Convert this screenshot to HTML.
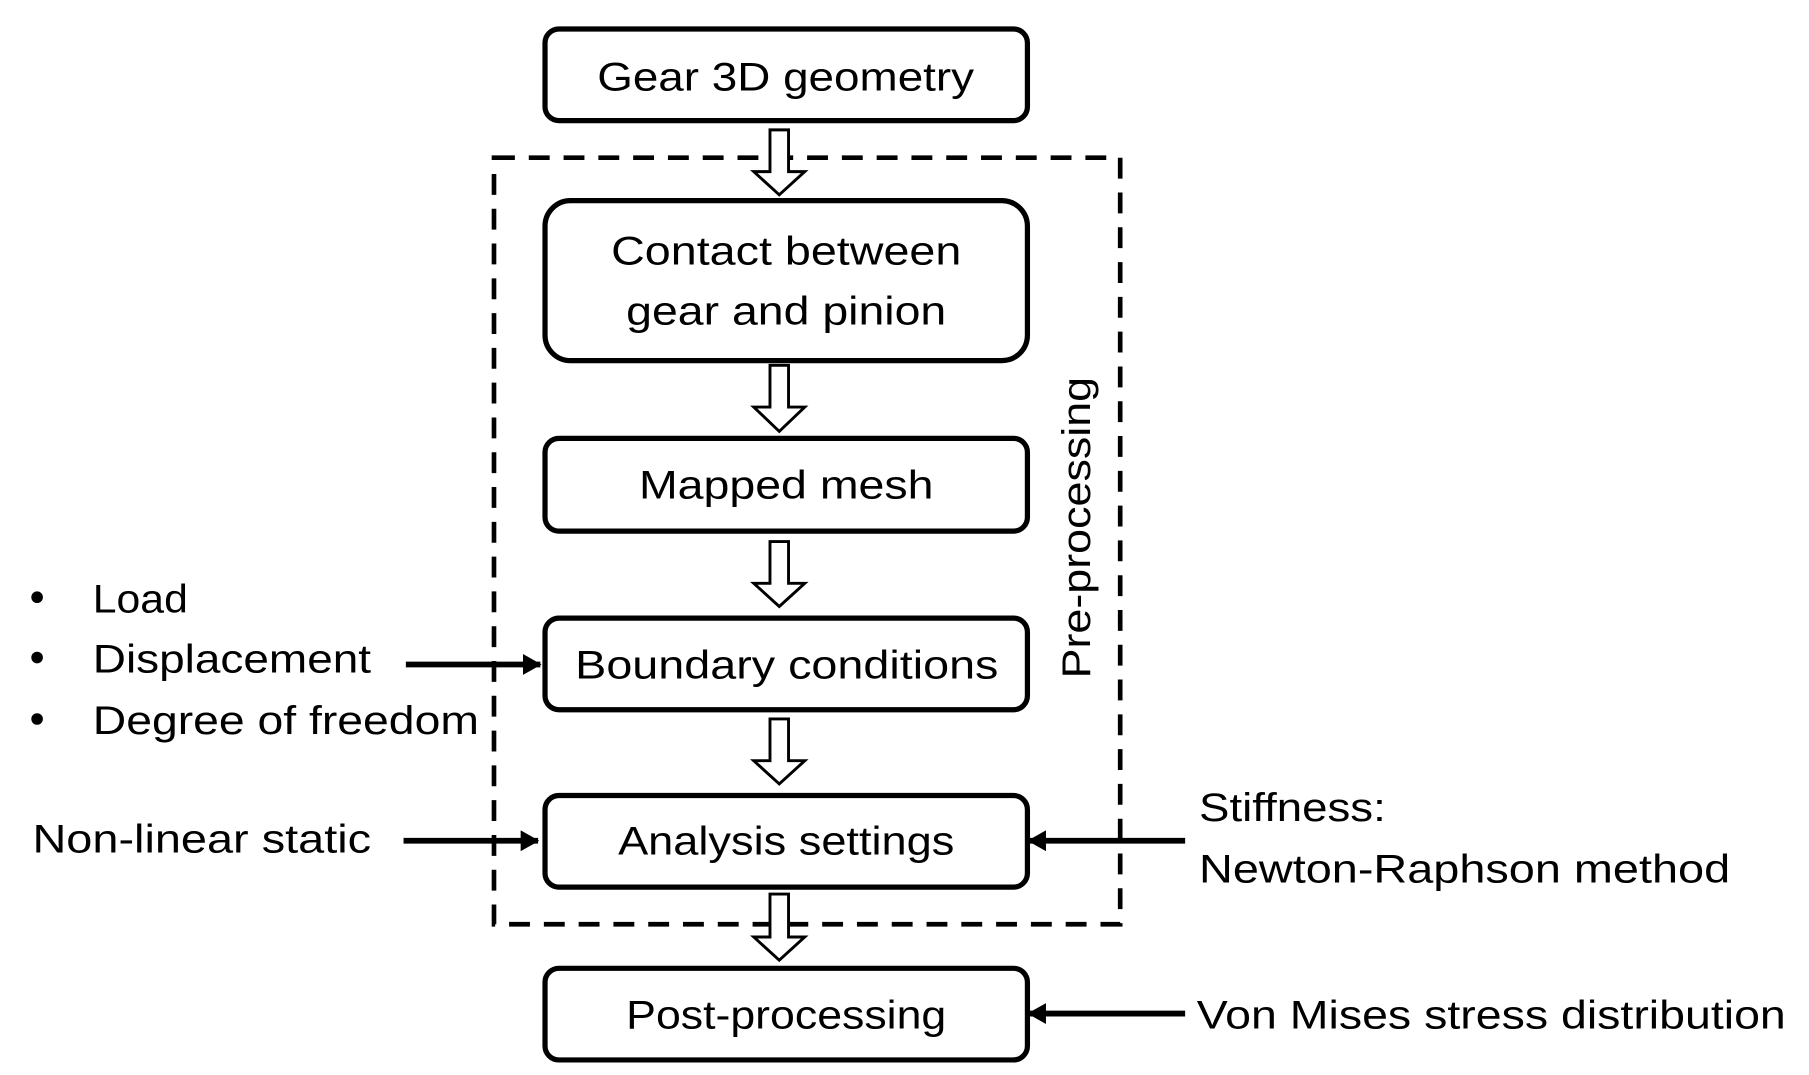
<!DOCTYPE html>
<html><head><meta charset="utf-8"><style>html,body{margin:0;padding:0;background:#fff}svg{display:block}</style></head>
<body>
<svg width="1809" height="1075" viewBox="0 0 1560 927" preserveAspectRatio="none" xmlns="http://www.w3.org/2000/svg">
<defs>
<marker id="ah" markerWidth="16" markerHeight="18" refX="15" refY="9" orient="auto" markerUnits="userSpaceOnUse"><path d="M0,0 L16,9 L0,18 z" fill="#000"/></marker>
</defs>
<g font-family="'Liberation Sans', sans-serif" font-size="34" fill="#000">
<rect x="426" y="136" width="540" height="661" fill="none" stroke="#000" stroke-width="4" stroke-dasharray="18,12"/>
<g fill="#fff" stroke="#000" stroke-width="4.5">
<rect x="470" y="25" width="416" height="79" rx="12"/>
<rect x="470" y="173" width="416" height="138" rx="22"/>
<rect x="470" y="378" width="416" height="80" rx="12"/>
<rect x="470" y="533" width="416" height="79" rx="12"/>
<rect x="470" y="686" width="416" height="79" rx="12"/>
<rect x="470" y="835" width="416" height="79" rx="12"/>
</g>
<g fill="#fff" stroke="#000" stroke-width="2.5">
<path d="M664,112 h16 v36 h14 l-22,20 l-22,-20 h14 z"/>
<path d="M664,315 h16 v36 h14 l-22,21 l-22,-21 h14 z"/>
<path d="M664,467 h16 v36 h14 l-22,20 l-22,-20 h14 z"/>
<path d="M664,620 h16 v36 h14 l-22,20 l-22,-20 h14 z"/>
<path d="M664,771 h16 v37 h14 l-22,20 l-22,-20 h14 z"/>
</g>
<g stroke="#000" stroke-width="5" marker-end="url(#ah)">
<line x1="350" y1="573" x2="466" y2="573"/>
<line x1="348" y1="725" x2="464" y2="725"/>
<line x1="1022" y1="725" x2="887" y2="725"/>
<line x1="1022" y1="874" x2="887" y2="874"/>
</g>
<text x="515" y="78" textLength="325" lengthAdjust="spacingAndGlyphs">Gear 3D geometry</text>
<text x="527" y="228" textLength="302" lengthAdjust="spacingAndGlyphs">Contact between</text>
<text x="540" y="280" textLength="276" lengthAdjust="spacingAndGlyphs">gear and pinion</text>
<text x="551" y="430" textLength="254" lengthAdjust="spacingAndGlyphs">Mapped mesh</text>
<text x="496" y="585" textLength="365" lengthAdjust="spacingAndGlyphs">Boundary conditions</text>
<text x="533" y="737" textLength="290" lengthAdjust="spacingAndGlyphs">Analysis settings</text>
<text x="540" y="887" textLength="276" lengthAdjust="spacingAndGlyphs">Post-processing</text>
<circle cx="32" cy="515" r="5"/><circle cx="32" cy="567" r="5"/><circle cx="32" cy="620" r="5"/>
<text x="80" y="528" textLength="82" lengthAdjust="spacingAndGlyphs">Load</text>
<text x="80" y="580" textLength="240" lengthAdjust="spacingAndGlyphs">Displacement</text>
<text x="80" y="633" textLength="333" lengthAdjust="spacingAndGlyphs">Degree of freedom</text>
<text x="28" y="735" textLength="292" lengthAdjust="spacingAndGlyphs">Non-linear static</text>
<text x="1034" y="708" textLength="161" lengthAdjust="spacingAndGlyphs">Stiffness:</text>
<text x="1034" y="761" textLength="458" lengthAdjust="spacingAndGlyphs">Newton-Raphson method</text>
<text x="1032" y="887" textLength="508" lengthAdjust="spacingAndGlyphs">Von Mises stress distribution</text>
<text transform="translate(940,585) rotate(-90)" textLength="260" lengthAdjust="spacingAndGlyphs">Pre-processing</text>
</g>
</svg>
</body></html>
